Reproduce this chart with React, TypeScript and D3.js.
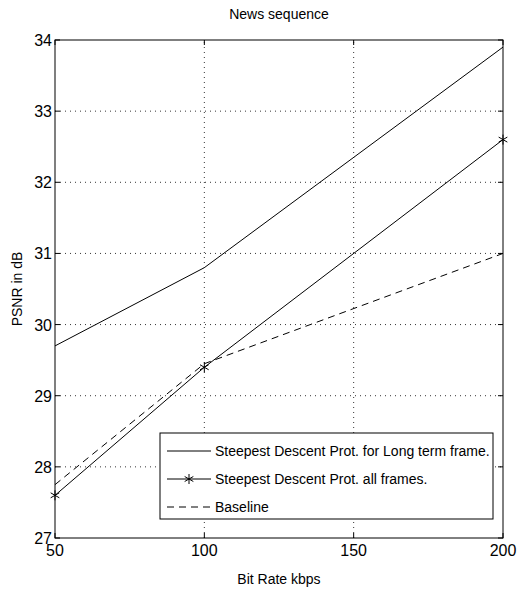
import React, { useEffect, useRef } from "react";
import * as d3 from "d3";

const bitRates = [50, 100, 200];
const longTerm = [29.7, 30.8, 33.9];
const allFrames = [27.6, 29.4, 32.6];
const baseline = [27.75, 29.45, 31.0];
const xTicks = [50, 100, 150, 200];
const yTicks = [27, 28, 29, 30, 31, 32, 33, 34];
const legendLabels = [
  "Steepest Descent Prot. for Long term frame.",
  "Steepest Descent Prot. all frames.",
  "Baseline",
];

const W = 518;
const H = 592;
const margin = { top: 40, right: 15, bottom: 54, left: 55 };
const FONT = "'Liberation Sans', Arial, sans-serif";

function App() {
  const svgRef = useRef<SVGSVGElement>(null);

  useEffect(() => {
    document.body.style.margin = "0";
    const svg = d3.select(svgRef.current);
    svg.selectAll("*").remove();

    const x = d3.scaleLinear().domain([50, 200]).range([margin.left, W - margin.right]);
    const y = d3.scaleLinear().domain([27, 34]).range([H - margin.bottom, margin.top]);
    const [x0, x1] = x.range();
    const [y0, y1] = y.range();

    svg.append("rect").attr("width", W).attr("height", H).attr("fill", "#fff");

    // grid
    const grid = svg.append("g").attr("stroke", "#000").attr("stroke-width", 0.8)
      .attr("stroke-dasharray", "1,4");
    grid.selectAll(".gx").data(xTicks.slice(1, -1)).join("line")
      .attr("x1", d => x(d)).attr("x2", d => x(d)).attr("y1", y0).attr("y2", y1);
    grid.selectAll(".gy").data(yTicks.slice(1, -1)).join("line")
      .attr("y1", d => y(d)).attr("y2", d => y(d)).attr("x1", x0).attr("x2", x1);

    // box with inward ticks
    const axes = svg.append("g").attr("stroke", "#000").attr("stroke-width", 1);
    axes.append("rect").attr("x", x0).attr("y", y1).attr("width", x1 - x0).attr("height", y0 - y1)
      .attr("fill", "none");
    const tl = 5;
    axes.selectAll(".tb").data(xTicks).join("line")
      .attr("x1", d => x(d)).attr("x2", d => x(d)).attr("y1", y0).attr("y2", y0 - tl);
    axes.selectAll(".tt").data(xTicks).join("line")
      .attr("x1", d => x(d)).attr("x2", d => x(d)).attr("y1", y1).attr("y2", y1 + tl);
    axes.selectAll(".tlft").data(yTicks).join("line")
      .attr("y1", d => y(d)).attr("y2", d => y(d)).attr("x1", x0).attr("x2", x0 + tl);
    axes.selectAll(".trgt").data(yTicks).join("line")
      .attr("y1", d => y(d)).attr("y2", d => y(d)).attr("x1", x1).attr("x2", x1 - tl);

    // tick labels
    svg.append("g").selectAll("text").data(xTicks).join("text")
      .attr("x", d => x(d)).attr("y", y0 + 18).attr("text-anchor", "middle")
      .attr("font-family", FONT).attr("font-size", 16).text(d => d);
    svg.append("g").selectAll("text").data(yTicks).join("text")
      .attr("x", x0 - 3).attr("y", d => y(d) + 6).attr("text-anchor", "end")
      .attr("font-family", FONT).attr("font-size", 16).text(d => d);

    // titles
    svg.append("text").attr("x", (x0 + x1) / 2).attr("y", 19).attr("text-anchor", "middle")
      .attr("font-family", FONT).attr("font-size", 14).text("News sequence");
    svg.append("text").attr("x", (x0 + x1) / 2).attr("y", 584).attr("text-anchor", "middle")
      .attr("font-family", FONT).attr("font-size", 14).text("Bit Rate kbps");
    svg.append("text").attr("transform", `translate(22,${(y0 + y1) / 2}) rotate(-90)`)
      .attr("text-anchor", "middle")
      .attr("font-family", FONT).attr("font-size", 14).text("PSNR in dB");

    const line = d3.line<number>().x((_, i) => x(bitRates[i])).y(d => y(d));
    const series = [
      { values: longTerm, dash: null, marker: false },
      { values: allFrames, dash: null, marker: true },
      { values: baseline, dash: "7,5", marker: false },
    ];
    const star = (g: any, cx: number, cy: number, r: number) => {
      const s = g.append("g").attr("stroke", "#000").attr("stroke-width", 1);
      [0, 60, 120].forEach(a => {
        const rad = (a * Math.PI) / 180;
        s.append("line").attr("x1", cx + r * Math.sin(rad)).attr("y1", cy - r * Math.cos(rad))
          .attr("x2", cx - r * Math.sin(rad)).attr("y2", cy + r * Math.cos(rad));
      });
    };

    const plot = svg.append("g");
    series.forEach(s => {
      plot.append("path").attr("d", line(s.values)).attr("fill", "none")
        .attr("stroke", "#000").attr("stroke-width", 1)
        .attr("stroke-dasharray", s.dash);
      if (s.marker) {
        s.values.forEach((v, i) => star(plot, x(bitRates[i]), y(v), 5));
      }
    });

    // legend
    const lg = svg.append("g");
    lg.append("rect").attr("x", 160).attr("y", 433).attr("width", 333).attr("height", 86)
      .attr("fill", "#fff").attr("stroke", "#000").attr("stroke-width", 1);
    const rows = [451, 479, 507];
    series.forEach((s, i) => {
      lg.append("line").attr("x1", 167).attr("x2", 211).attr("y1", rows[i]).attr("y2", rows[i])
        .attr("stroke", "#000").attr("stroke-width", 1).attr("stroke-dasharray", s.dash);
      if (s.marker) star(lg, 189, rows[i], 5);
      lg.append("text").attr("x", 215).attr("y", rows[i] + 5)
        .attr("font-family", FONT).attr("font-size", 14)
        .text(legendLabels[i]);
    });
  }, []);

  return <svg ref={svgRef} width={W} height={H} style={{ display: "block" }} />;
}

export default App;
